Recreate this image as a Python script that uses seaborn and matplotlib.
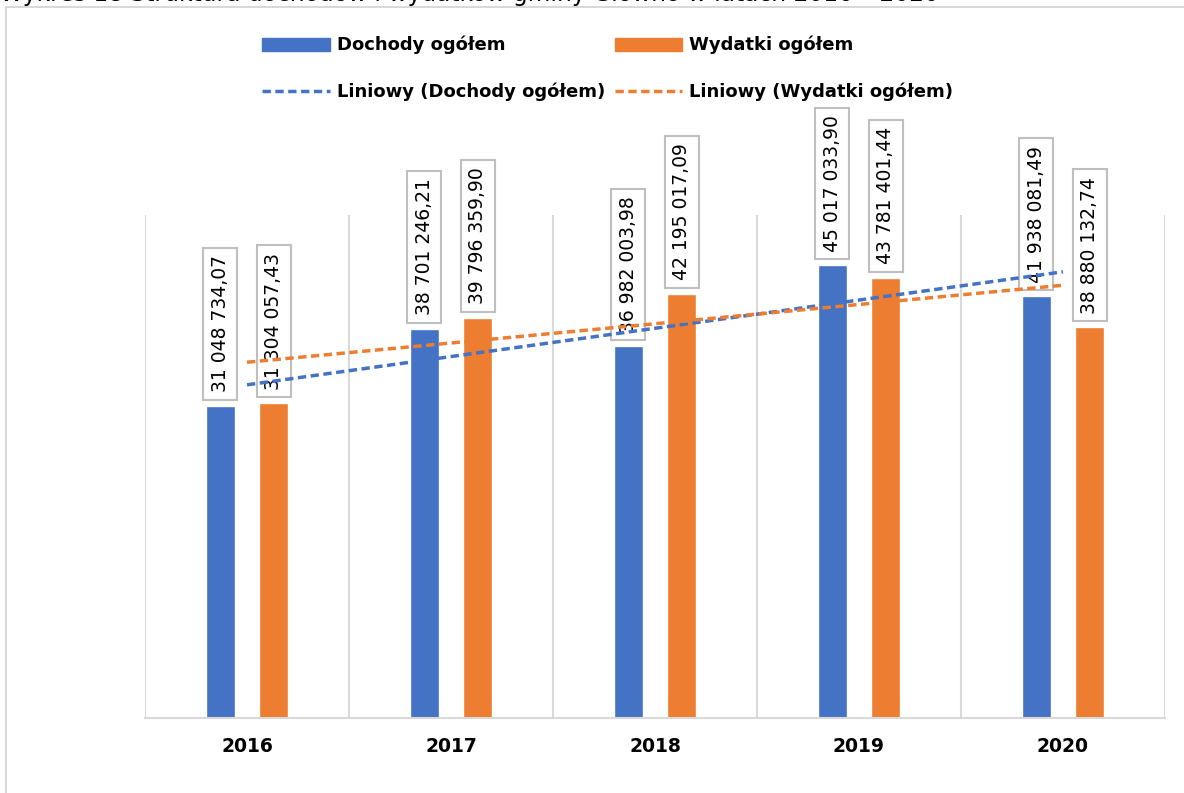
import numpy as np
import pandas as pd
import matplotlib.pyplot as plt
import seaborn as sns
from matplotlib.patches import Patch, Rectangle
from matplotlib.lines import Line2D

# dane z wykresu
lata = ['2016', '2017', '2018', '2019', '2020']
dochody = [31048734.07, 38701246.21, 36982003.98, 45017033.90, 41938081.49]
wydatki = [31304057.43, 39796359.90, 42195017.09, 43781401.44, 38880132.74]
serie = ['Dochody ogółem', 'Wydatki ogółem']
tytul = 'Wykres 18 Struktura dochodów i wydatków gminy Głowno w latach 2016 – 2020'

niebieski = '#4472C4'
pomaranczowy = '#ED7D31'
szary = '#d9d9d9'

sns.set_style("white")
plt.rcParams['font.family'] = ['DejaVu Sans']
plt.rcParams['text.color'] = 'black'
plt.rcParams['xtick.color'] = 'black'

df = pd.DataFrame({
    'rok': lata * 2,
    'kwota': dochody + wydatki,
    'seria': [serie[0]] * len(lata) + [serie[1]] * len(lata),
})

fig = plt.figure(figsize=(11.84, 7.93), dpi=100)
ax = fig.add_axes([145 / 1184, 1 - 718 / 793, 1020 / 1184, 503 / 793])

sns.barplot(data=df, x='rok', y='kwota', hue='seria', palette=[niebieski, pomaranczowy],
            width=0.52, gap=0.45, ax=ax, legend=False, saturation=1)

ax.set_xlim(-0.5, 4.5)
ax.set_ylim(0, 50e6)
ax.set_xlabel('')
ax.set_ylabel('')
ax.set_yticks([])
for s in ['left', 'right', 'top']:
    ax.spines[s].set_visible(False)
ax.spines['bottom'].set_color(szary)
ax.spines['bottom'].set_linewidth(1.5)
ax.set_xticks(np.arange(-0.5, 5, 1), minor=True)
ax.tick_params(axis='x', which='both', length=0, pad=14)
ax.grid(True, axis='x', which='minor', color=szary, linewidth=1.5)
ax.grid(False, axis='x', which='major')
for lab in ax.get_xticklabels():
    lab.set_fontweight('bold')
    lab.set_fontsize(13.5)

# etykiety danych
def fmt(v):
    return f"{v:,.2f}".replace(',', ' ').replace('.', ',')

for cont in ax.containers:
    for bar in cont:
        h = bar.get_height()
        ax.annotate(fmt(h), xy=(bar.get_x() + bar.get_width() / 2, h),
                    xytext=(0, 9.5), textcoords='offset points',
                    rotation=90, ha='center', va='bottom', fontsize=13.5,
                    annotation_clip=False, zorder=4,
                    bbox=dict(boxstyle='square,pad=0.4', fc='white', ec='#bfbfbf', lw=1.5))

# linie trendu (liniowe)
x = np.arange(len(lata))
kreska = (0, (2.4, 1.3))
for vals, col in [(dochody, niebieski), (wydatki, pomaranczowy)]:
    a, b = np.polyfit(x, vals, 1)
    ax.plot([x[0], x[-1]], [a * x[0] + b, a * x[-1] + b], color=col, lw=2.5,
            linestyle=kreska, zorder=5, clip_on=False)

uchwyty = [
    Patch(color=niebieski),
    Line2D([], [], color=niebieski, lw=2.5, linestyle=kreska),
    Patch(color=pomaranczowy),
    Line2D([], [], color=pomaranczowy, lw=2.5, linestyle=kreska),
]
etykiety = [serie[0], 'Liniowy (Dochody ogółem)', serie[1], 'Liniowy (Wydatki ogółem)']
fig.legend(uchwyty, etykiety, loc='upper left', bbox_to_anchor=(262 / 1184, 1 - 36 / 793),
           ncol=2, frameon=False, borderpad=0, borderaxespad=0, handlelength=3.75,
           handletextpad=0.38, columnspacing=0.55, labelspacing=1.55,
           prop={'weight': 'bold', 'size': 13})

# ramka obszaru wykresu
fig.patches.append(Rectangle((6 / 1184, -0.1), 1.2, 1 - 7 / 793 + 0.1, transform=fig.transFigure,
                             fill=False, ec=szary, lw=1.5))
fig.text(0.0, 1 - 0.5 / 793, tytul, fontsize=16.8, va='baseline', ha='left')

fig.savefig('out.png', dpi=100)
